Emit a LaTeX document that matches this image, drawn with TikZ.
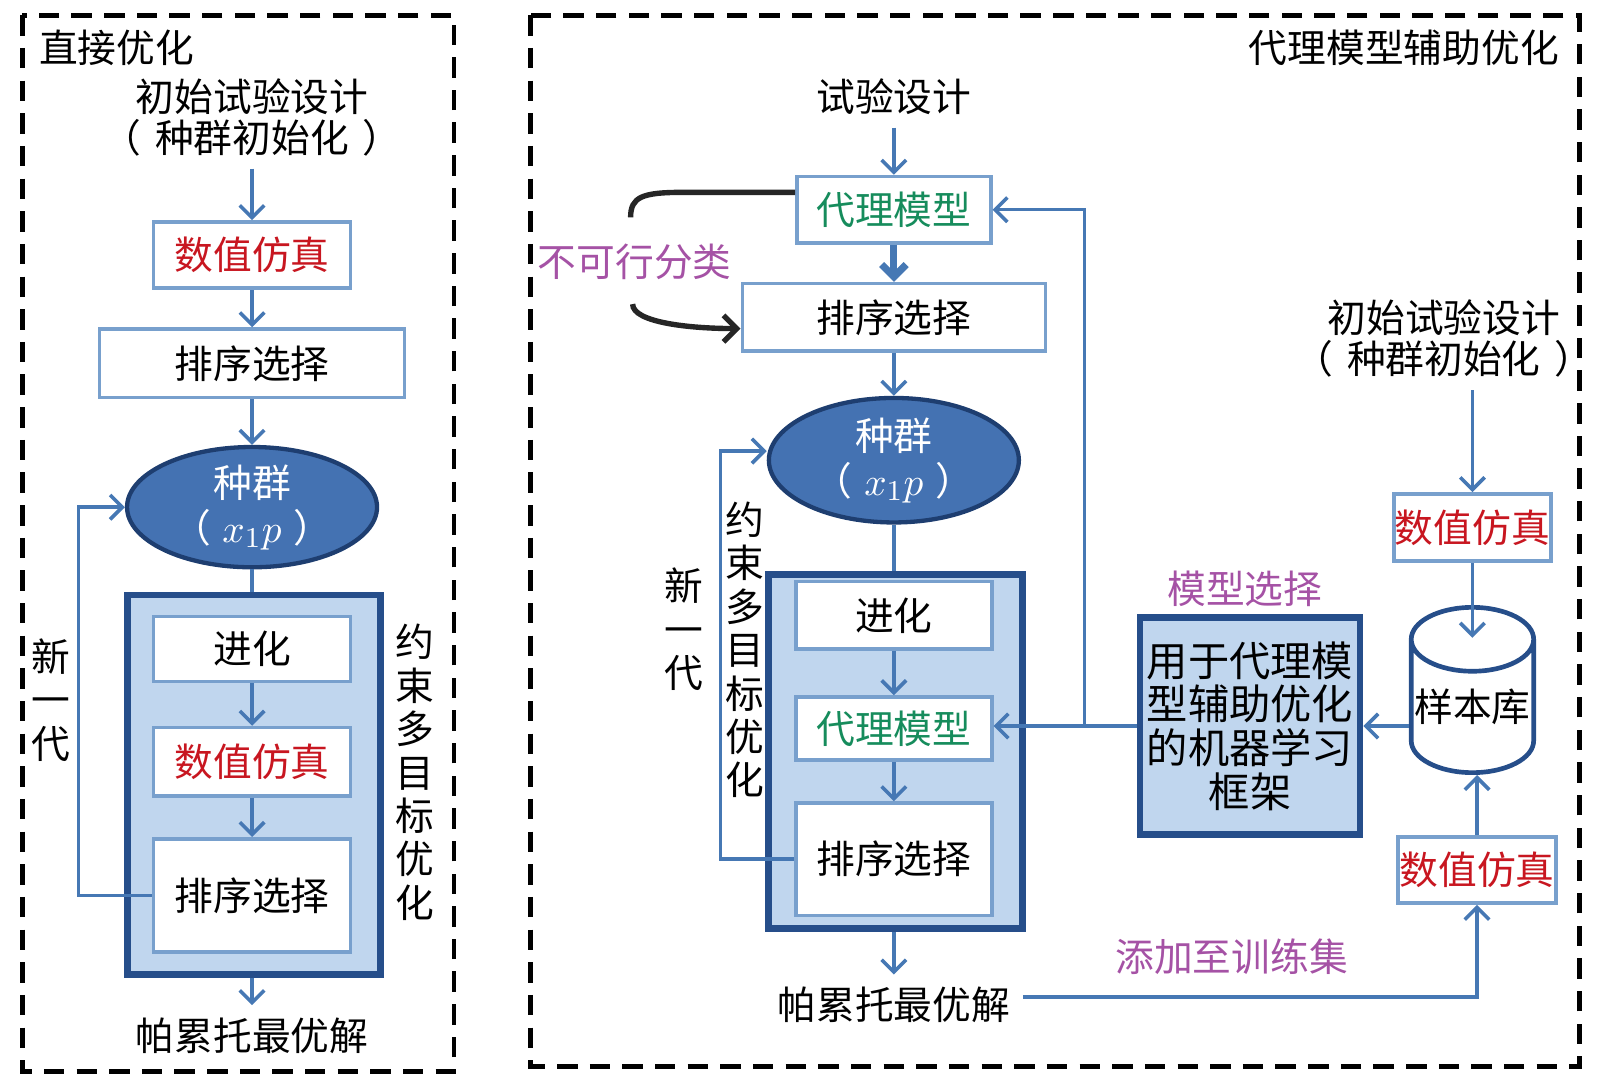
\documentclass[tikz,border=0pt]{standalone}
\usepackage{fontspec}
\newfontfamily\cjk{Noto Sans CJK SC}
\usepackage{tikz}
\usetikzlibrary{shapes.geometric, arrows.meta, calc, positioning}

\definecolor{boxline}{RGB}{120,160,205}
\definecolor{flowc}{RGB}{70,120,180}
\definecolor{popfill}{RGB}{68,114,178}
\definecolor{popline}{RGB}{30,62,112}
\definecolor{grpfill}{RGB}{192,214,238}
\definecolor{grpline}{RGB}{38,78,138}
\definecolor{simred}{RGB}{200,22,32}
\definecolor{surgreen}{RGB}{22,140,92}
\definecolor{notec}{RGB}{165,82,165}

\newcommand{\popinit}{（\hspace{0.35em}种群初始化\hspace{0.35em}）}
\newcommand{\poplabel}{种群\\（\hspace{0.3em}$x_1p$\hspace{0.3em}）}

\begin{document}
\begin{tikzpicture}[x=0.1mm, y=-0.1mm,
    every node/.style={font=\cjk\fontsize{10.8}{11.4}\selectfont},
    stepbox/.style={rectangle, draw=boxline, line width=1pt, fill=white, inner sep=0pt},
    pop/.style={ellipse, draw=popline, line width=1.2pt, fill=popfill, text=white, align=center, inner sep=0pt, font=\cjk\fontsize{10.8}{12.5}\selectfont},
    grpbox/.style={rectangle, draw=grpline, line width=1.8pt, fill=grpfill, inner sep=0pt},
    mlbox/.style={rectangle, draw=grpline, line width=1.8pt, fill=grpfill, inner sep=0pt, align=center, font=\cjk\fontsize{11.5}{12.2}\selectfont},
    db/.style={cylinder, shape border rotate=90, aspect=0.55, draw=grpline, line width=1.3pt, fill=white, inner sep=0pt, minimum width=12mm, minimum height=16.2mm},
    vtext/.style={align=center, font=\cjk\fontsize{10.8}{12.1}\selectfont},
    labeltxt/.style={text=notec},
    dashframe/.style={draw=black, line width=1.3pt, dash pattern=on 2mm off 1.2mm},
    flowarrow/.style={draw=flowc, line width=1pt, -{Straight Barb[length=1.2mm, width=2.4mm]}},
    link/.style={draw=flowc, line width=1pt},
    bendline/.style={draw=black!85, line width=1.5pt},
  ]
  \useasboundingbox (0,0) rectangle (1568,1070);

  % ---- direct optimisation ----
  \draw[dashframe] (22,15) rectangle (445,1050);
  \node[anchor=west] (ltitle) at (26,47) {直接优化};
  \node[align=center] (linit) at (247,115) {初始试验设计\\\popinit};
  \node[stepbox, minimum width=19.3mm, minimum height=6.5mm, text=simred] (lsim) at (247,250) {数值仿真};
  \node[stepbox, minimum width=29.9mm, minimum height=6.7mm] (lsort) at (247,356) {排序选择};
  \node[pop, minimum width=24.5mm, minimum height=10.9mm] (lpop) at (247,497) {\poplabel};
  \node[grpbox, minimum width=24.8mm, minimum height=37.2mm] (lgrp) at (249,769) {};
  \node[stepbox, minimum width=19.3mm, minimum height=6.4mm] (levo) at (247,636) {进化};
  \node[stepbox, minimum width=19.3mm, minimum height=6.7mm, text=simred] (lsim2) at (247,746.5) {数值仿真};
  \node[stepbox, minimum width=19.3mm, minimum height=11.1mm] (lsort2) at (247,877.5) {排序选择};
  \node (lpareto) at (247,1015) {帕累托最优解};
  \node[vtext] (lnew) at (50,686) {新\\一\\代};
  \node[vtext] (lcmo) at (407,757) {约\\束\\多\\目\\标\\优\\化};

  \draw[flowarrow] (linit) -- (lsim);
  \draw[flowarrow] (lsim) -- (lsort);
  \draw[flowarrow] (lsort) -- (lpop);
  \draw[link] (lpop.south) -- (lpop.south |- lgrp.north);
  \draw[flowarrow] (levo) -- (lsim2);
  \draw[flowarrow] (lsim2) -- (lsort2);
  \draw[flowarrow] (lgrp.south -| lpareto) -- (lpareto);
  \draw[flowarrow] (lsort2.west) -- ++(-72,0) |- (lpop.west);

  % ---- surrogate assisted optimisation ----
  \draw[dashframe] (520,15) rectangle (1548,1045);
  \node[anchor=east] (rtitle) at (1540,47) {代理模型辅助优化};
  \node (rdoe) at (876,95) {试验设计};
  \node[stepbox, minimum width=19mm, minimum height=6.5mm, text=surgreen] (rsur) at (876,205.5) {代理模型};
  \node[stepbox, minimum width=29.7mm, minimum height=6.6mm] (rsort) at (876,311) {排序选择};
  \node[pop, minimum width=24.5mm, minimum height=12.2mm] (rpop) at (876,451) {\poplabel};
  \node[grpbox, minimum width=24.9mm, minimum height=34.7mm] (rgrp) at (877.5,736.5) {};
  \node[stepbox, minimum width=19.2mm, minimum height=6.6mm] (revo) at (876,603) {进化};
  \node[stepbox, minimum width=19.2mm, minimum height=6.2mm, text=surgreen] (rsur2) at (876,714) {代理模型};
  \node[stepbox, minimum width=19.2mm, minimum height=11mm] (rsort2) at (876,842) {排序选择};
  \node (rpareto) at (876,985) {帕累托最优解};
  \node[vtext] (rnew) at (670,617) {新\\一\\代};
  \node[vtext] (rcmo) at (730,637) {约\\束\\多\\目\\标\\优\\化};
  \node[labeltxt] (infeas) at (622,257) {不可行分类};
  \coordinate (cls1) at (618,213);
  \coordinate (cls2) at (620,298);

  \node[mlbox, minimum width=21.6mm, minimum height=21.3mm] (rml) at (1225,711.5) {用于代理模\\型辅助优化\\的机器学习\\框架};
  \node[labeltxt] (msel) at (1220,577) {模型选择};
  \node[db] (rdb) at (1443,693) {样本库};
  \node[align=center] (rinit) at (1415,332) {初始试验设计\\\popinit};
  \node[stepbox, minimum width=15.4mm, minimum height=6.6mm, text=simred] (rsim1) at (1443,517) {数值仿真};
  \node[stepbox, minimum width=15.5mm, minimum height=6.5mm, text=simred] (rsim2) at (1447.5,852.5) {数值仿真};
  \node[labeltxt] (addtr) at (1207,938) {添加至训练集};
  \coordinate (dbin) at (1443,625);
  \coordinate (rsplit) at (1063,711.5);

  \draw[flowarrow] (rdoe) -- (rsur);
  \draw[flowarrow, line width=2pt] (rsur) -- (rsort);
  \draw[flowarrow] (rsort) -- (rpop);
  \draw[link] (rpop.south) -- (rpop.south |- rgrp.north);
  \draw[flowarrow] (revo) -- (rsur2);
  \draw[flowarrow] (rsur2) -- (rsort2);
  \draw[flowarrow] (rgrp.south -| rpareto) -- (rpareto);
  \draw[flowarrow] (rsort2.west) -- ++(-72,0) |- ([yshift=0.9mm]rpop.west);
  % infeasible classification loop
  \draw[bendline] ([yshift=1.7mm]rsur.west) -- ++(-110,0) .. controls +(-40,0) and +(0,-20) .. (cls1);
  \draw[bendline, -{Straight Barb[length=1.3mm, width=2.6mm]}] (cls2) .. controls +(0,18) and +(-50,0) .. ([yshift=-1.1mm]rsort.west);
  % sample database and learning
  \draw[flowarrow] (rinit.south -| rsim1) -- (rsim1.north);
  \draw[flowarrow] (rsim1) -- (dbin);
  \draw[flowarrow] (rsim2.north) -- (rsim2.north |- rdb.south);
  \draw[flowarrow] (rml.east -| rdb.west) -- (rml.east);
  \draw[flowarrow] (rml.west) -- (rml.west -| rsur2.east);
  \draw[flowarrow] (rsplit) |- (rsur.east);
  \draw[flowarrow] ([yshift=0.8mm]rpareto.east) -| (rsim2.south);
\end{tikzpicture}
\end{document}
